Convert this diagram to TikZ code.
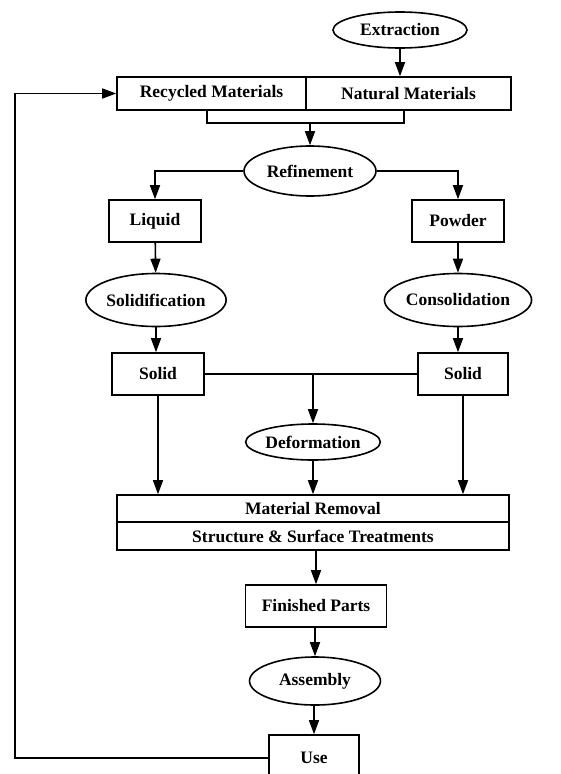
\documentclass[tikz,border=0pt]{standalone}
\usepackage{fontspec}
\setmainfont{Liberation Serif}
\usetikzlibrary{arrows.meta,shapes.geometric,positioning}

\tikzset{
  box/.style={draw,line width=1.6pt,rectangle,inner sep=0pt,font=\bfseries\fontsize{17.5}{20}\selectfont},
  oval/.style={draw,line width=1.6pt,ellipse,inner sep=0pt,font=\bfseries\fontsize{17.5}{20}\selectfont},
  flow/.style={line width=1.6pt,-{Triangle[length=14pt,width=10pt]}},
  link/.style={line width=1.6pt}
}

\begin{document}
\begin{tikzpicture}[x=1pt,y=-1pt]
  % page size 560x774, origin top left
  \useasboundingbox (0,0) rectangle (560,774);
  \clip (0,0) rectangle (560,774);

  % raw materials
  \node[oval,minimum width=134pt,minimum height=36pt] (extr) at (400,30) {Extraction};
  \node[box,minimum width=189pt,minimum height=33pt] (recyc) at (211.5,93.5) {Recycled Materials};
  \node[box,minimum width=205pt,minimum height=33pt] (natur) at (408.5,93.5) {Natural Materials};
  \draw[flow] (extr) -- (extr |- natur.north);

  % bracket under the two materials, then refinement
  \coordinate (brl) at (207,123);
  \coordinate (brr) at (404,123);
  \coordinate (brm) at (310,123);
  \draw[link] (recyc.south -| brl) -- (brl) -- (brr) -- (natur.south -| brr);
  \node[oval,minimum width=132pt,minimum height=50pt] (refin) at (310,171) {Refinement};
  \draw[flow] (brm) -- (refin.north);

  % liquid and powder routes
  \node[box,minimum width=92pt,minimum height=42pt] (liquid) at (155,221) {Liquid};
  \node[box,minimum width=92pt,minimum height=42pt] (powder) at (458,221) {Powder};
  \draw[flow] (refin.west) -| (liquid.north);
  \draw[flow] (refin.east) -| (powder.north);

  \node[oval,minimum width=130pt,minimum height=53pt] (solidif) at (156,300) {Solidification};
  \node[oval,minimum width=124pt,minimum height=53pt] (consol) at (458,300) {Consolidation};
  \draw[flow] (liquid) -- (solidif);
  \draw[flow] (powder) -- (consol);

  \node[box,minimum width=92pt,minimum height=42pt] (solidl) at (158,374) {Solid};
  \node[box,minimum width=90pt,minimum height=42pt] (solidr) at (463,374) {Solid};
  \draw[flow] (solidif) -- (solidif |- solidl.north);
  \draw[flow] (consol) -- (consol |- solidr.north);

  % deformation branch
  \node[oval,minimum width=132pt,minimum height=36pt] (deform) at (313,442) {Deformation};
  \coordinate (join) at (313,374);
  \draw[link] (solidl.east) -- (solidr.west);
  \draw[flow] (join) -- (deform.north);

  % removal and treatments
  \node[box,minimum width=392pt,minimum height=27pt] (remov) at (313,508.5) {Material Removal};
  \node[box,minimum width=392pt,minimum height=28pt] (treat) at (313,536) {Structure \& Surface Treatments};
  \draw[flow] (solidl.south) -- (solidl.south |- remov.north);
  \draw[flow] (solidr.south) -- (solidr.south |- remov.north);
  \draw[flow] (deform.south) -- (remov.north -| deform.south);

  % parts, assembly, use
  \node[box,minimum width=141pt,minimum height=42pt] (parts) at (316,606) {Finished Parts};
  \node[oval,minimum width=131pt,minimum height=48pt] (assem) at (315,681) {Assembly};
  \node[box,minimum width=90pt,minimum height=46pt] (use) at (314,758) {Use};
  \draw[flow] (treat.south -| parts.north) -- (parts.north);
  \draw[flow] (parts.south -| assem.north) -- (assem.north);
  \draw[flow] (assem.south -| use.north) -- (use.north);

  % recycling loop back to the top
  \coordinate (loop) at (15,758);
  \draw[flow] (use.west) -- (loop) |- (recyc.west);
\end{tikzpicture}
\end{document}
